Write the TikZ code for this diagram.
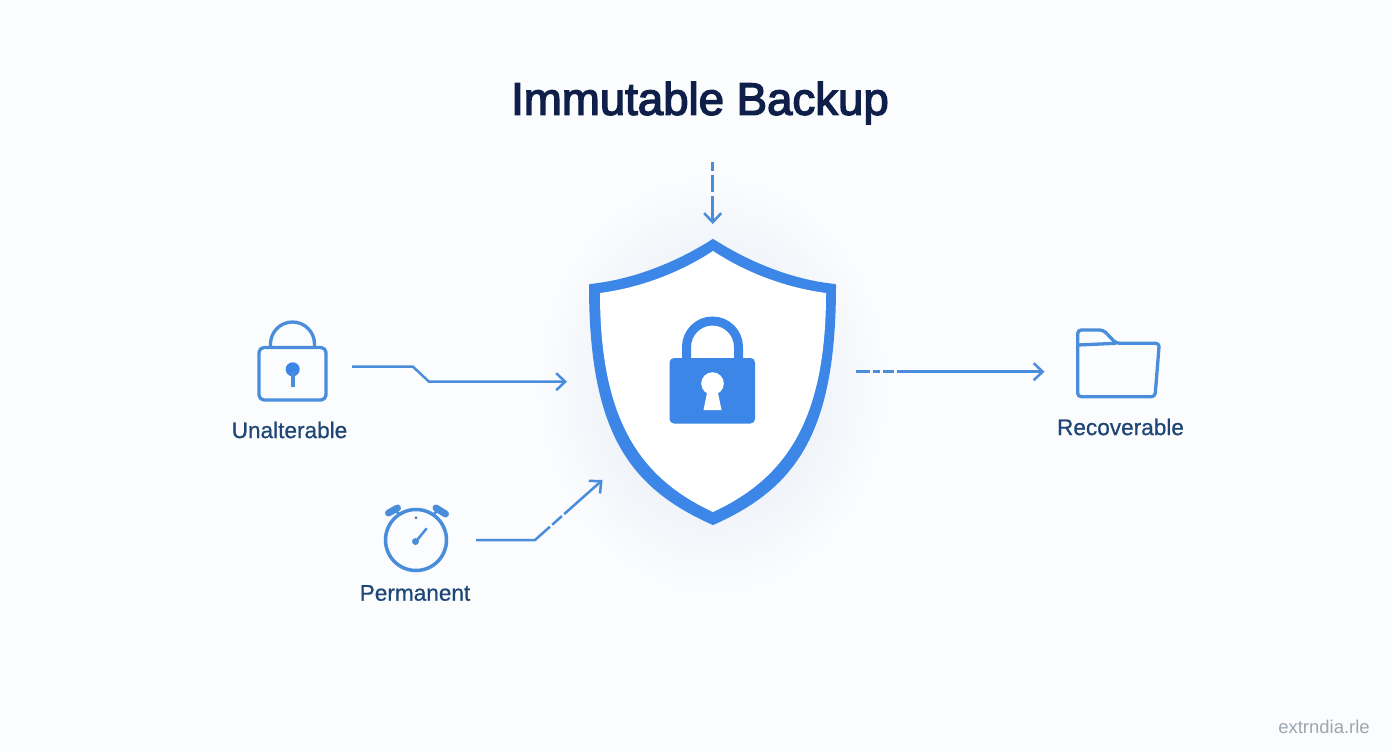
\documentclass[tikz,border=0pt]{standalone}
\usepackage{fontspec}
\setmainfont{Liberation Sans}
\newfontfamily\titlef[FakeBold=3]{Liberation Sans}
\newfontfamily\labf[FakeBold=0.7]{Liberation Sans}
\usetikzlibrary{arrows.meta}
\definecolor{bgc}{HTML}{FBFCFD}
\definecolor{shieldblue}{HTML}{3B86E6}
\definecolor{iconblue}{HTML}{4A8EDB}
\definecolor{labelc}{HTML}{1F4675}
\definecolor{titlec}{HTML}{0F1F4A}
\definecolor{wmc}{HTML}{9DA6B0}
\definecolor{glowc}{HTML}{EFF3F9}
\tikzset{
  icon/.style={draw=iconblue,line width=3.3pt,line join=round},
  conn/.style={draw=iconblue,line width=2.5pt,line join=miter,-{Straight Barb[length=9pt,width=17pt,line width=2.5pt]}},
  lab/.style={text=labelc,font=\labf\fontsize{22.6}{26}\selectfont,inner sep=0pt,anchor=center},
}
\pgfdeclareradialshading{glowshade}{\pgfpointorigin}{color(0bp)=(glowc); color(14bp)=(glowc); color(25bp)=(bgc); color(50bp)=(bgc)}
\begin{document}
\begin{tikzpicture}[x=1pt,y=-1pt]
\useasboundingbox (0,0) rectangle (1392,752);
\fill[bgc] (0,0) rectangle (1392,752);
\node[minimum width=350pt,minimum height=420pt,inner sep=0pt,shading=glowshade] (glow) at (712.5,385) {};
% title
\node[text=titlec,font=\titlef\fontsize{45.6}{50}\selectfont,inner sep=0pt] (title) at (700,103) {Immutable Backup};
% shield
\fill[shieldblue,draw=shieldblue,line width=2pt,line join=round] (713,240)
  .. controls (674,265) and (630,281) .. (590,285)
  .. controls (590,432) and (630,487) .. (713,524)
  .. controls (796,487) and (835,432) .. (835,285)
  .. controls (795,281) and (752,265) .. (713,240) -- cycle;
\fill[white] (713,251)
  .. controls (678,274) and (638,288) .. (600,293)
  .. controls (600,420) and (640,478) .. (713,512)
  .. controls (786,478) and (826,420) .. (826,293)
  .. controls (788,288) and (748,274) .. (713,251) -- cycle;
% big lock
\draw[shieldblue,line width=9pt] (686.5,362) -- (686.5,347) arc[start angle=180,end angle=360,radius=26] -- (738.5,362);
\fill[shieldblue,rounded corners=4.5pt] (669.5,358) rectangle (755,423.5);
\fill[white] (712.5,383.5) circle[radius=11.3];
\fill[white] (708,388) -- (717,388) -- (721.5,410) -- (703.5,410) -- cycle;
% small lock
\draw[icon] (270.5,348) -- (270.5,344) arc[start angle=180,end angle=360,radius=22] -- (314.5,348);
\draw[icon,rounded corners=5pt] (259,347.5) rectangle (326,400);
\fill[shieldblue] (292.7,369.3) circle[radius=7];
\draw[iconblue,line width=4pt] (292.7,372) -- (292.7,386.5);
\node[lab] (unalterable) at (289.5,430) {Unalterable};
% clock
\draw[icon,line width=3.5pt] (416,540) circle[radius=30.5];
\draw[iconblue,line width=7pt,line cap=round] (388.5,513) -- (397.5,508);
\draw[iconblue,line width=7pt,line cap=round] (436,508) -- (445.5,514);
\draw[iconblue,line width=2.5pt] (396,511) -- (400,515);
\draw[iconblue,line width=2.5pt] (437,511) -- (433,515);
\fill[iconblue!70!black] (416,517.7) circle[radius=1.3];
\draw[iconblue,line width=2.5pt] (415.5,542) -- (426.7,528.3);
\fill[iconblue] (415.5,541.5) circle[radius=3.5];
\node[lab] (permanent) at (415,593) {Permanent};
% folder
\draw[icon,rounded corners=3.5pt] (1077.7,345) -- (1077.7,330) -- (1103.3,330) -- (1116,343.3) -- (1159.3,343.3) -- (1155,396.7) -- (1077.7,396.7) -- cycle;
\draw[icon] (1078,345) -- (1116,343.3);
\node[lab] (recoverable) at (1120.5,427) {Recoverable};
% watermark
\node[text=wmc,font=\fontsize{18.5}{22}\selectfont,inner sep=0pt] (wm) at (1324,727) {extrndia.rle};
% connector ends
\coordinate (a1) at (712.7,161.7); \coordinate (a2) at (712.7,224);
\coordinate (b1) at (352,366.7); \coordinate (b2) at (413,366.7); \coordinate (b3) at (429,381.7); \coordinate (b4) at (567,381.7);
\coordinate (c1) at (476,540); \coordinate (c2) at (535,540); \coordinate (c3) at (602.5,480);
\coordinate (d1) at (856,371.7); \coordinate (d2) at (1044.5,371.7);
\draw[conn,dash pattern=on 9pt off 4pt on 17pt off 4pt on 60pt] (a1) -- (a2);
\draw[conn] (b1) -- (b2) -- (b3) -- (b4);
\draw[conn,dash pattern=on 79pt off 3pt on 13pt off 3pt on 300pt] (c1) -- (c2) -- (c3);
\draw[conn,dash pattern=on 14pt off 3pt on 7pt off 3pt on 11pt off 3pt on 400pt] (d1) -- (d2);
\end{tikzpicture}
\end{document}
